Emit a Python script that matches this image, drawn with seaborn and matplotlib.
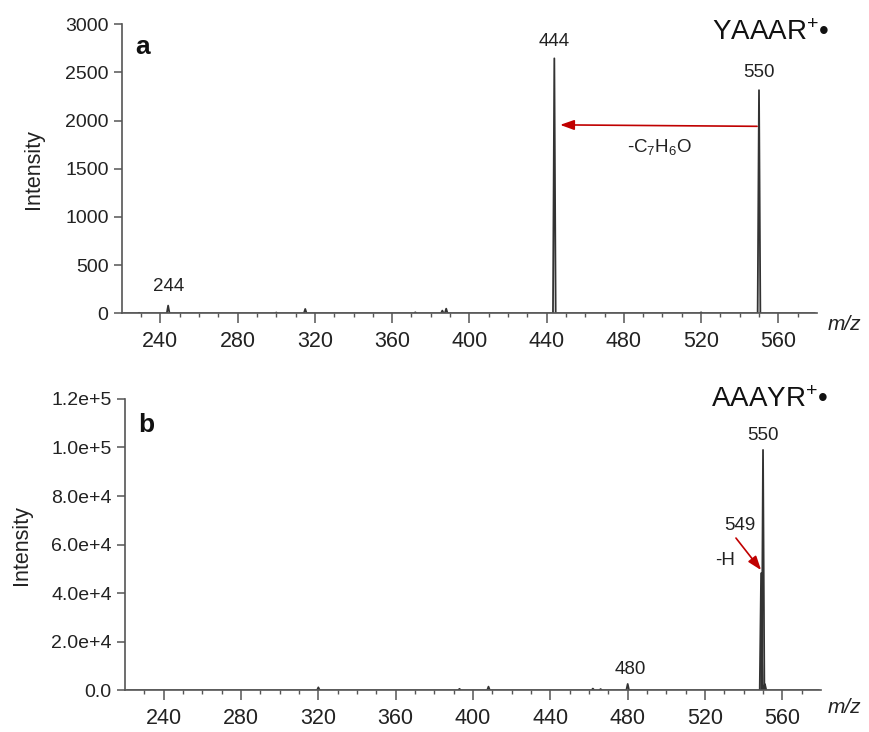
import numpy as np
import pandas as pd
import matplotlib
matplotlib.use("Agg")
import matplotlib.pyplot as plt
import seaborn as sns

# ---- data ----
peaks_a_mz = [229, 244, 300, 315, 372, 386, 388, 444, 520, 550]
peaks_a_int = [5, 80, 8, 45, 10, 28, 48, 2645, 10, 2315]
peaks_b_mz = [320, 393, 408, 462, 466, 480, 549, 550, 551]
peaks_b_int = [1200, 600, 1500, 700, 500, 2600, 48200, 99000, 2500]

yticks_a = [0, 500, 1000, 1500, 2000, 2500, 3000]
yticks_b = [0, 20000, 40000, 60000, 80000, 100000, 120000]
yticklabels_b = ["0.0", "2.0e+4", "4.0e+4", "6.0e+4", "8.0e+4", "1.0e+5", "1.2e+5"]
xticks = [240, 280, 320, 360, 400, 440, 480, 520, 560]

labels_a = [("244", 244, 280), ("444", 444, 2823), ("550", 550, 2502)]
labels_b = [("550", 550, 105000), ("549", 538.2, 68000), ("480", 481.5, 8700)]

sns.set_theme(style="ticks")
plt.rcParams["font.family"] = ["Liberation Sans", "DejaVu Sans"]
plt.rcParams["mathtext.fontset"] = "custom"
plt.rcParams["mathtext.rm"] = "Liberation Sans"
plt.rcParams["mathtext.it"] = "Liberation Sans:italic"
plt.rcParams["mathtext.default"] = "regular"

LINE = "#333333"
SPINE = "#555555"
RED = "#c00000"


def profile(mz, inten, half=0.7, lo=221, hi=579):
    xs, ys = [lo], [0.0]
    for m, h in sorted(zip(mz, inten)):
        xs += [m - half, m, m + half]
        ys += [0.0, h, 0.0]
    xs.append(hi)
    ys.append(0.0)
    return pd.DataFrame({"mz": xs, "intensity": ys})


df_a = profile(peaks_a_mz, peaks_a_int)
df_b = profile(peaks_b_mz, peaks_b_int)

fig = plt.figure(figsize=(8.7, 7.32), dpi=100)
ax1 = fig.add_axes([0.140, 0.572, 0.799, 0.395])
ax2 = fig.add_axes([0.1437, 0.057, 0.800, 0.398])

for ax, df, lp in ((ax1, df_a, 15), (ax2, df_b, 14)):
    sns.lineplot(data=df, x="mz", y="intensity", ax=ax, color=LINE,
                 linewidth=1.3, estimator=None, sort=False)
    ax.set_xlim(220, 580)
    ax.set_xticks(xticks)
    ax.set_xticks(np.arange(230, 580, 10), minor=True)
    ax.set_xlabel("")
    ax.set_ylabel("Intensity", fontsize=15.5, color="#222222", labelpad=lp)
    for s in ("top", "right"):
        ax.spines[s].set_visible(False)
    for s in ("left", "bottom"):
        ax.spines[s].set_color(SPINE)
        ax.spines[s].set_linewidth(1.2)
    ax.tick_params(axis="x", which="major", length=7, width=1.1, color=SPINE,
                   labelsize=15.5, labelcolor="#222222", pad=6)
    ax.tick_params(axis="x", which="minor", length=3, width=1.0, color=SPINE)
    ax.tick_params(axis="y", which="major", length=6, width=1.1, color=SPINE,
                   labelsize=14, labelcolor="#222222")

ax1.set_ylim(0, 3000)
ax1.set_yticks(yticks_a)
ax2.set_ylim(0, 120000)
ax2.set_yticks(yticks_b)
ax2.set_yticklabels(yticklabels_b)

for t, x, y in labels_a:
    ax1.text(x, y, t, ha="center", va="center", fontsize=13.5, color="#222222")
for t, x, y in labels_b:
    ax2.text(x, y, t, ha="center", va="center", fontsize=13.5, color="#222222")

# annotations panel a
ax1.annotate("", xy=(447, 1955), xytext=(549, 1940),
             arrowprops=dict(arrowstyle="-|>,head_length=0.7,head_width=0.25",
                             color=RED, lw=1.2, shrinkA=0, shrinkB=0))
ax1.text(498.5, 1723, r"-C$_7$H$_6$O", ha="center", va="center",
         fontsize=13.5, color="#222222")
ax1.text(0.019, 0.92, "a", transform=ax1.transAxes, fontsize=19,
         fontweight="bold", ha="left", va="center", color="#111111")
ax1.text(1.018, 0.969, r"YAAAR$^{+}$•", transform=ax1.transAxes,
         fontsize=20, ha="right", va="center", clip_on=False, color="#111111")
ax1.text(1.015, -0.04, "m/z", transform=ax1.transAxes, fontsize=15,
         style="italic", ha="left", va="center", color="#222222")

# annotations panel b
ax2.annotate("", xy=(549.0, 49500), xytext=(536, 62700),
             arrowprops=dict(arrowstyle="-|>,head_length=0.7,head_width=0.25",
                             color=RED, lw=1.2, shrinkA=0, shrinkB=0))
ax2.text(530.4, 53600, "-H", ha="center", va="center", fontsize=13.5,
         color="#222222")
ax2.text(0.019, 0.91, "b", transform=ax2.transAxes, fontsize=19,
         fontweight="bold", ha="left", va="center", color="#111111")
ax2.text(1.01, 0.997, r"AAAYR$^{+}$•", transform=ax2.transAxes,
         fontsize=20, ha="right", va="center", clip_on=False, color="#111111")
ax2.text(1.01, -0.06, "m/z", transform=ax2.transAxes, fontsize=15,
         style="italic", ha="left", va="center", color="#222222")

fig.savefig("out.png", dpi=100)
